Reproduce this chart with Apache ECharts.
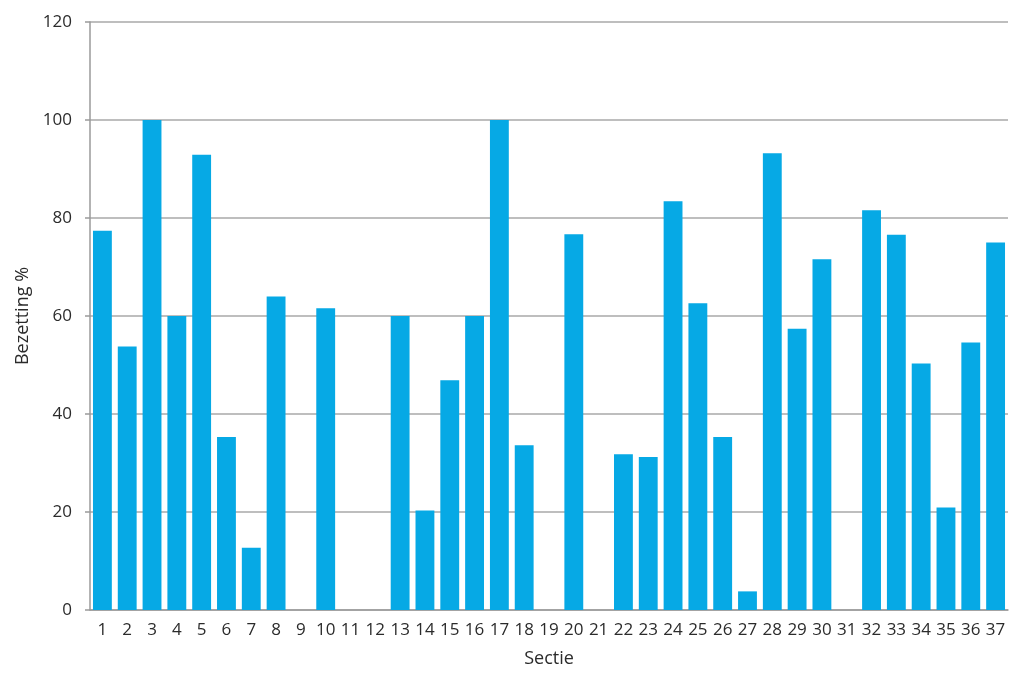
<!DOCTYPE html>
<html>
<head>
<meta charset="utf-8">
<script src="https://cdn.jsdelivr.net/npm/echarts@6/dist/echarts.min.js"></script>
<style>
  html, body { margin: 0; padding: 0; background: #fff; }
  #chart { width: 1010px; height: 673px; }
</style>
</head>
<body>
<div id="chart"></div>
<script>
// Section numbers along the x axis
const secties = ['1','2','3','4','5','6','7','8','9','10','11','12','13','14','15','16','17','18','19',
  '20','21','22','23','24','25','26','27','28','29','30','31','32','33','34','35','36','37'];

// Occupancy per section (%)
const bezetting = [77.4, 53.8, 100, 60, 92.9, 35.3, 12.7, 64.0, 0, 61.6, 0, 0, 60, 20.3, 46.9, 60, 100,
  33.6, 0, 76.7, 0, 31.8, 31.2, 83.4, 62.6, 35.3, 3.8, 93.2, 57.4, 71.6, 0, 81.6, 76.6, 50.3, 20.9, 54.6, 75.0];

// Value axis ticks
const yMin = 0, yMax = 120, yStep = 20;

const font = 'Open Sans';
const textColor = '#2b2b2b';
const chart = echarts.init(document.getElementById('chart'));
chart.setOption({
  animation: false,
  backgroundColor: '#fff',
  grid: { left: 90, right: 2, top: 22, bottom: 61, containLabel: false },
  xAxis: {
    type: 'category',
    data: secties,
    name: 'Sectie',
    nameLocation: 'middle',
    nameGap: 40,
    nameTextStyle: { fontFamily: font, fontSize: 18, color: textColor },
    axisLine: { lineStyle: { color: '#9a9a9a', width: 1.5 } },
    axisTick: { show: false },
    axisLabel: { interval: 0, fontFamily: font, fontSize: 17, color: textColor, margin: 12 }
  },
  yAxis: {
    type: 'value',
    min: yMin, max: yMax, interval: yStep,
    name: 'Bezetting %',
    nameLocation: 'middle',
    nameGap: 58,
    nameRotate: 90,
    nameTextStyle: { fontFamily: font, fontSize: 18, color: textColor },
    axisLine: { show: true, lineStyle: { color: '#9a9a9a', width: 1.5 } },
    axisTick: { show: true, length: 5, lineStyle: { color: '#9a9a9a', width: 1.5 } },
    axisLabel: { fontFamily: font, fontSize: 17, color: textColor, margin: 18 },
    splitLine: { lineStyle: { color: '#a8a8a8', width: 1.5 } }
  },
  series: [{
    type: 'bar',
    data: bezetting,
    barCategoryGap: '24%',
    itemStyle: { color: '#06a9e5' }
  }]
});
</script>
</body>
</html>
